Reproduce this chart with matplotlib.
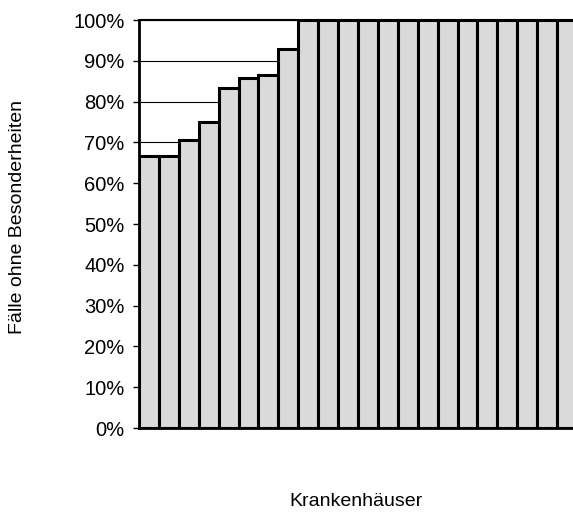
import matplotlib.pyplot as plt
import numpy as np

plt.rcParams['font.family'] = ['Liberation Sans', 'DejaVu Sans']

# Anteil Fälle ohne Besonderheiten je Krankenhaus (in %)
werte = [66.7, 66.7, 70.6, 75.0, 83.3, 85.7, 86.4, 92.9] + [100.0] * 14
yticks = np.arange(0, 101, 10)
ylabels = [f'{t}%' for t in yticks]

fig = plt.figure(figsize=(5.73, 5.13), dpi=100)
# Achse läuft rechts etwas über den Bildrand hinaus (letzter Balken angeschnitten)
ax = fig.add_axes([139 / 573, 85 / 513, 438 / 573, 408 / 513])

x = np.arange(len(werte))
ax.bar(x, werte, width=1.0, color='#dadada', edgecolor='black', linewidth=2.2, zorder=2)

ax.set_xlim(-0.5, len(werte) - 0.5)
ax.set_ylim(0, 100)
ax.set_yticks(yticks)
ax.set_yticklabels(ylabels, fontsize=14.5)
ax.set_xticks([])
ax.yaxis.grid(True, color='black', linewidth=0.8, zorder=0)
ax.set_axisbelow(True)
ax.tick_params(axis='y', direction='out', length=4.5, width=1, pad=6)

for side in ['left', 'bottom']:
    ax.spines[side].set_linewidth(2)
ax.spines['top'].set_linewidth(1.5)
ax.spines['right'].set_visible(False)

fig.text(18 / 573, 1 - 217 / 513, 'Fälle ohne Besonderheiten', rotation=90,
         ha='center', va='center', fontsize=14)
fig.text(356 / 573, 1 - 501 / 513, 'Krankenhäuser', ha='center', va='center', fontsize=14)

fig.savefig('out.png', dpi=100)
